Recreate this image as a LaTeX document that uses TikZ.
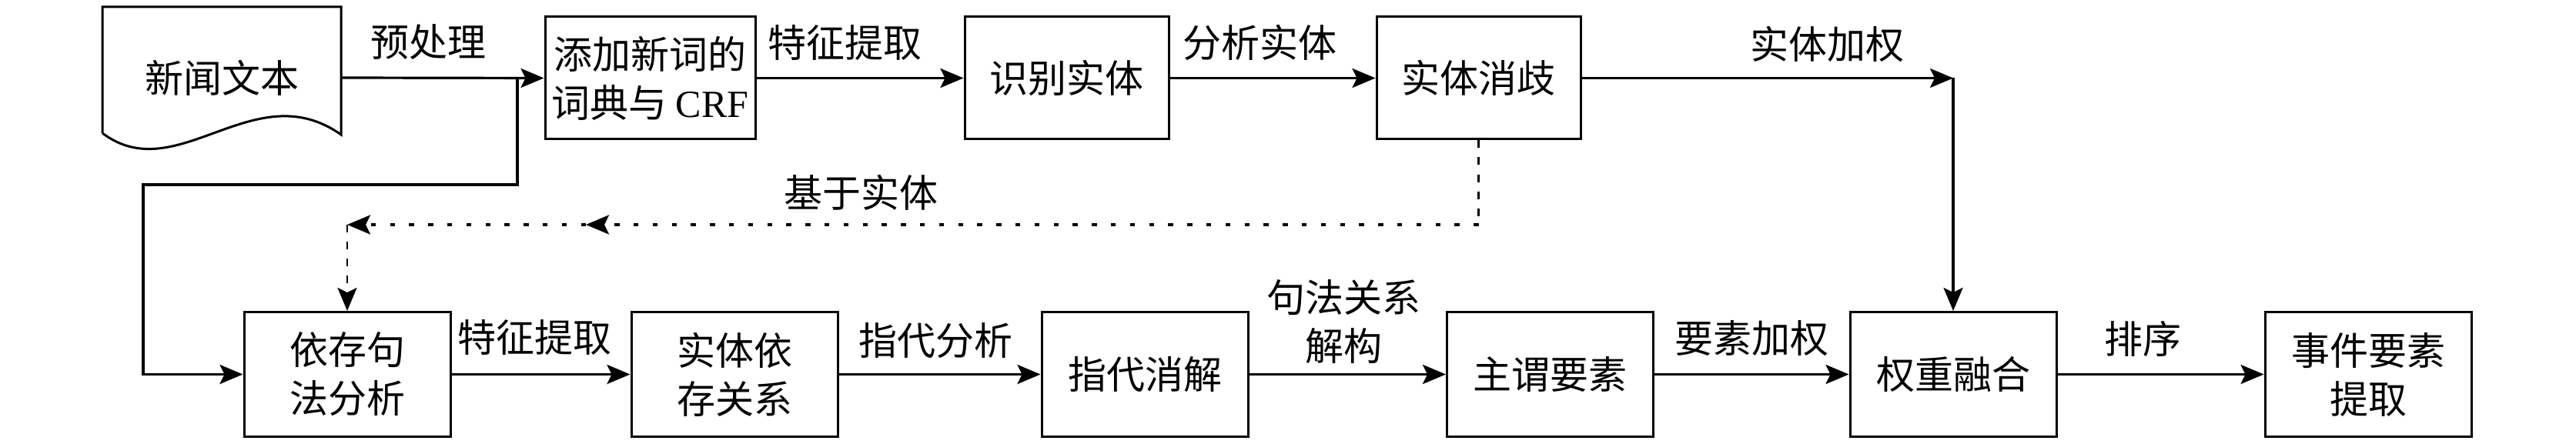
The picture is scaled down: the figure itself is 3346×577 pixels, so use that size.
\documentclass[tikz,border=0pt]{standalone}
\usepackage{fontspec}
\setmainfont{Liberation Serif}
\newfontfamily\cjk{Noto Sans CJK SC}
\newfontfamily\lat{Liberation Serif}
\usetikzlibrary{arrows.meta}
\begin{document}
\begin{tikzpicture}[x=0.25pt,y=-0.25pt,
  font=\cjk\fontsize{12.5}{15.75}\selectfont,
  box/.style={draw,line width=0.75pt,minimum width=67pt,minimum height=40.5pt,inner sep=0pt,align=center},
  topbox/.style={box,minimum width=66.25pt,minimum height=39.75pt},
  lbl/.style={inner sep=0pt,align=center},
  ln/.style={line width=0.75pt},
  arr/.style={line width=0.8pt,-{Stealth[length=7.5pt,width=6.25pt,inset=1.5pt]}},
  dashln/.style={line width=0.65pt,dash pattern=on 2.5pt off 3pt},
  dotln/.style={line width=0.85pt,dash pattern=on 1.6pt off 4.6pt}
]
\useasboundingbox[fill=white] (0,0) rectangle (3346,577);

% document shape
\node[lbl,minimum width=77.5pt,minimum height=46pt] (doc) at (288,101) {新闻文本};
\draw[ln,line join=miter] (133,173) -- (133,9) -- (443,9) -- (443,175)
  .. controls (330,95) and (230,246) .. (133,173);

% top row
\node[topbox,minimum width=68.25pt] (crf) at (844.5,101.5) {添加新词的\\词典与 {\lat CRF}};
\node[topbox] (rec) at (1385.5,101.5) {识别实体};
\node[topbox] (dis) at (1920.5,101.5) {实体消歧};

% bottom row
\node[box] (dep) at (451,486.5) {依存句\\法分析};
\node[box] (rel) at (954,486.5) {实体依\\存关系};
\node[box] (cor) at (1487,486.5) {指代消解};
\node[box] (sp)  at (2013.5,486.5) {主谓要素};
\node[box] (fus) at (2537,486.5) {权重融合};
\node[box] (ext) at (3076,486.5) {事件要素\\提取};

% labels
\node[lbl] (l1) at (556,55) {预处理};
\node[lbl] (l2) at (1097,55) {特征提取};
\node[lbl] (l3) at (1636,55) {分析实体};
\node[lbl] (l4) at (2373,57) {实体加权};
\node[lbl] (l5) at (1118,250) {基于实体};
\node[lbl] (l6) at (694,438) {特征提取};
\node[lbl] (l7) at (1215,443) {指代分析};
\node[lbl] (l8) at (1745,418) {句法关系\\解构};
\node[lbl] (l9) at (2275,440) {要素加权};
\node[lbl] (l10) at (2783,440) {排序};

% coordinates
\coordinate (b1) at (672,101);
\coordinate (b2) at (186,240);
\coordinate (c1) at (dis.east -| fus.north);
\coordinate (d1) at (1920.5,292);
\coordinate (d2) at (761,292);
\coordinate (d3) at (dep.north |- d1);

% connectors
\draw[arr] (doc.east) -- (crf.west);
\draw[arr,line join=miter] (b1) |- (b2) |- (dep.west);
\draw[arr] (crf) -- (rec);
\draw[arr] (rec) -- (dis);
\draw[arr] (dis.east) -- (c1);
\draw[arr] (c1) -- (fus.north);
\draw[dashln] (dis.south) -- (d1);
\draw[arr,dotln] (d1) -- (d2);
\draw[arr,dotln] (d2) -- (d3);
\draw[arr,dashln] (d3) -- (dep.north);
\draw[arr] (dep) -- (rel);
\draw[arr] (rel) -- (cor);
\draw[arr] (cor) -- (sp);
\draw[arr] (sp) -- (fus);
\draw[arr] (fus) -- (ext);
\end{tikzpicture}
\end{document}
